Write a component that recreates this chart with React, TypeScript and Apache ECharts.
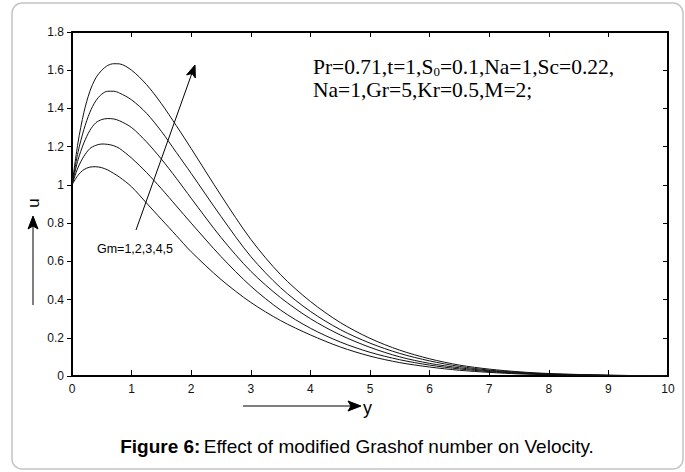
import React, { useEffect, useRef } from "react";
import * as echarts from "echarts";

const xs = [0, 0.1, 0.2, 0.3, 0.4, 0.5, 0.6, 0.7, 0.8, 1.0, 1.25, 1.5, 1.75, 2.0, 2.5, 3.0, 3.5, 4.0, 4.5, 5.0, 5.5, 6.0, 6.5, 7.0, 7.5, 8.0, 8.5, 9.0, 9.5, 10.0];

const gm1 = [1, 1.05, 1.08, 1.093, 1.095, 1.09, 1.078, 1.06, 1.04, 0.99, 0.905, 0.82, 0.735, 0.65, 0.505, 0.385, 0.29, 0.215, 0.152, 0.104, 0.07, 0.047, 0.03, 0.019, 0.011, 0.007, 0.004, 0.002, 0.001, 0];
const gm2 = [1, 1.09, 1.15, 1.19, 1.207, 1.214, 1.212, 1.205, 1.19, 1.14, 1.065, 0.98, 0.89, 0.8, 0.625, 0.47, 0.345, 0.25, 0.178, 0.124, 0.085, 0.057, 0.037, 0.023, 0.014, 0.008, 0.005, 0.003, 0.001, 0];
const gm3 = [1, 1.13, 1.22, 1.285, 1.325, 1.342, 1.347, 1.345, 1.335, 1.3, 1.225, 1.135, 1.035, 0.93, 0.725, 0.548, 0.41, 0.3, 0.215, 0.15, 0.1, 0.066, 0.043, 0.027, 0.016, 0.01, 0.006, 0.003, 0.001, 0];
const gm4 = [1, 1.17, 1.29, 1.38, 1.44, 1.475, 1.49, 1.49, 1.48, 1.445, 1.375, 1.28, 1.17, 1.06, 0.835, 0.625, 0.462, 0.338, 0.243, 0.172, 0.118, 0.079, 0.05, 0.031, 0.019, 0.011, 0.007, 0.004, 0.002, 0];
const gm5 = [1, 1.22, 1.38, 1.49, 1.56, 1.6, 1.625, 1.634, 1.633, 1.6, 1.525, 1.425, 1.31, 1.19, 0.945, 0.715, 0.53, 0.39, 0.28, 0.197, 0.135, 0.09, 0.057, 0.036, 0.022, 0.013, 0.008, 0.004, 0.002, 0];

const seriesNames = ["Gm=1", "Gm=2", "Gm=3", "Gm=4", "Gm=5"];
const seriesValues = [gm1, gm2, gm3, gm4, gm5];

const paramLine1 = ["Pr=0.71,t=1,S", "0", "=0.1,Na=1,Sc=0.22,"];
const paramLine2 = "Na=1,Gr=5,Kr=0.5,M=2;";
const gmLabel = "Gm=1,2,3,4,5";
const captionBold = "Figure 6:";
const captionText = "Effect of modified Grashof number on Velocity.";

const SANS = "Liberation Sans, Arial, sans-serif";
const NARROW = "Liberation Sans Narrow, Arial Narrow, Liberation Sans, Arial, sans-serif";
const SERIF = "Liberation Serif, Times New Roman, serif";

export default function App() {
  const ref = useRef<HTMLDivElement>(null);
  useEffect(() => {
    if (!ref.current) return;
    const chart = echarts.init(ref.current, null, { renderer: "svg" });
    const axisCommon = {
      type: "value" as const,
      min: 0,
      splitLine: { show: false },
    };
    chart.setOption({
      animation: false,
      backgroundColor: "#fff",
      grid: { left: 72, right: 17, top: 32, bottom: 96, containLabel: false },
      xAxis: [
        {
          ...axisCommon,
          max: 10,
          interval: 1,
          position: "bottom",
          axisLine: { show: true, lineStyle: { color: "#000", width: 2 } },
          axisTick: { show: true, inside: true, length: 6, lineStyle: { color: "#000", width: 1 } },
          axisLabel: { margin: 7, color: "#111", fontSize: 12, fontFamily: NARROW },
        },
        {
          ...axisCommon,
          max: 10,
          interval: 1,
          position: "top",
          axisLine: { show: true, onZero: false, lineStyle: { color: "#000", width: 2 } },
          axisTick: { show: true, inside: true, length: 5, lineStyle: { color: "#000", width: 1 } },
          axisLabel: { show: false },
        },
      ],
      yAxis: [
        {
          ...axisCommon,
          max: 1.8,
          interval: 0.2,
          position: "left",
          axisLine: { show: true, lineStyle: { color: "#000", width: 2 } },
          axisTick: { show: true, inside: false, length: 5, lineStyle: { color: "#000", width: 1 } },
          axisLabel: { margin: 8, color: "#111", fontSize: 12, fontFamily: NARROW },
        },
        {
          ...axisCommon,
          max: 1.8,
          interval: 0.2,
          position: "right",
          axisLine: { show: true, onZero: false, lineStyle: { color: "#000", width: 2 } },
          axisTick: { show: true, inside: true, length: 5, lineStyle: { color: "#000", width: 1 } },
          axisLabel: { show: false },
        },
      ],
      series: seriesValues.map((vals, i) => ({
        name: seriesNames[i],
        type: "line",
        xAxisIndex: 0,
        yAxisIndex: 0,
        data: xs.map((x, j) => [x, vals[j]]),
        showSymbol: false,
        smooth: 0.3,
        lineStyle: { color: "#111", width: 1 },
        silent: true,
      })),
      graphic: [
        {
          type: "rect",
          shape: { x: 12, y: 3, width: 671, height: 466, r: 10 },
          style: { fill: "none", stroke: "#c4c4c4", lineWidth: 1.5 },
          silent: true,
          z: -1,
        },
        {
          type: "text",
          x: 313,
          y: 67,
          style: {
            text: "{n|" + paramLine1[0] + "}{s|" + paramLine1[1] + "}{n|" + paramLine1[2] + "}",
            align: "left",
            verticalAlign: "middle",
            fill: "#000",
            rich: {
              n: { fontSize: 21.5, fontFamily: SERIF, lineHeight: 22, fill: "#000" },
              s: { fontSize: 13, fontFamily: SERIF, lineHeight: 13, verticalAlign: "bottom", fill: "#000" },
            },
          },
        },
        {
          type: "text",
          x: 313,
          y: 90,
          style: {
            text: paramLine2,
            align: "left",
            verticalAlign: "middle",
            fill: "#000",
            fontSize: 21.5,
            fontFamily: SERIF,
            lineHeight: 22,
          },
        },
        {
          type: "line",
          shape: { x1: 136, y1: 230, x2: 192, y2: 73 },
          style: { stroke: "#000", lineWidth: 1 },
        },
        {
          type: "polygon",
          shape: { points: [[195, 65], [195.4, 78], [192, 73.5], [186.6, 74.9]] },
          style: { fill: "#000", stroke: "#000", lineWidth: 1 },
        },
        {
          type: "text",
          x: 135,
          y: 249,
          style: { text: gmLabel, align: "center", verticalAlign: "middle", fontSize: 12.5, fontFamily: SANS, fill: "#000" },
        },
        {
          type: "text",
          x: 33,
          y: 203,
          rotation: Math.PI / 2,
          style: { text: "u", align: "center", verticalAlign: "middle", fontSize: 17, fontFamily: SANS, fill: "#000" },
        },
        {
          type: "line",
          shape: { x1: 33, y1: 305, x2: 33, y2: 226 },
          style: { stroke: "#000", lineWidth: 1 },
        },
        {
          type: "polygon",
          shape: { points: [[33, 216], [38, 229], [33, 226], [28, 229]] },
          style: { fill: "#000", stroke: "#000", lineWidth: 1 },
        },
        {
          type: "line",
          shape: { x1: 243, y1: 406, x2: 352, y2: 406 },
          style: { stroke: "#000", lineWidth: 1 },
        },
        {
          type: "polygon",
          shape: { points: [[361, 406], [348, 401], [351, 406], [348, 411]] },
          style: { fill: "#000", stroke: "#000", lineWidth: 1 },
        },
        {
          type: "text",
          x: 363,
          y: 408,
          style: { text: "y", align: "left", verticalAlign: "middle", fontSize: 18, fontFamily: SANS, fill: "#000" },
        },
        {
          type: "text",
          x: 357,
          y: 446,
          style: {
            text: "{b|" + captionBold + "} {r|" + captionText + "}",
            align: "center",
            verticalAlign: "middle",
            fill: "#000",
            rich: {
              b: { fontSize: 19, fontWeight: "bold", fontFamily: SANS, fill: "#000" },
              r: { fontSize: 19, fontFamily: SANS, fill: "#000" },
            },
          },
        },
      ],
    });
    return () => chart.dispose();
  }, []);
  return (
    <div
      ref={ref}
      style={{ position: "absolute", left: 0, top: 0, width: 685, height: 472, background: "#fff" }}
    />
  );
}
